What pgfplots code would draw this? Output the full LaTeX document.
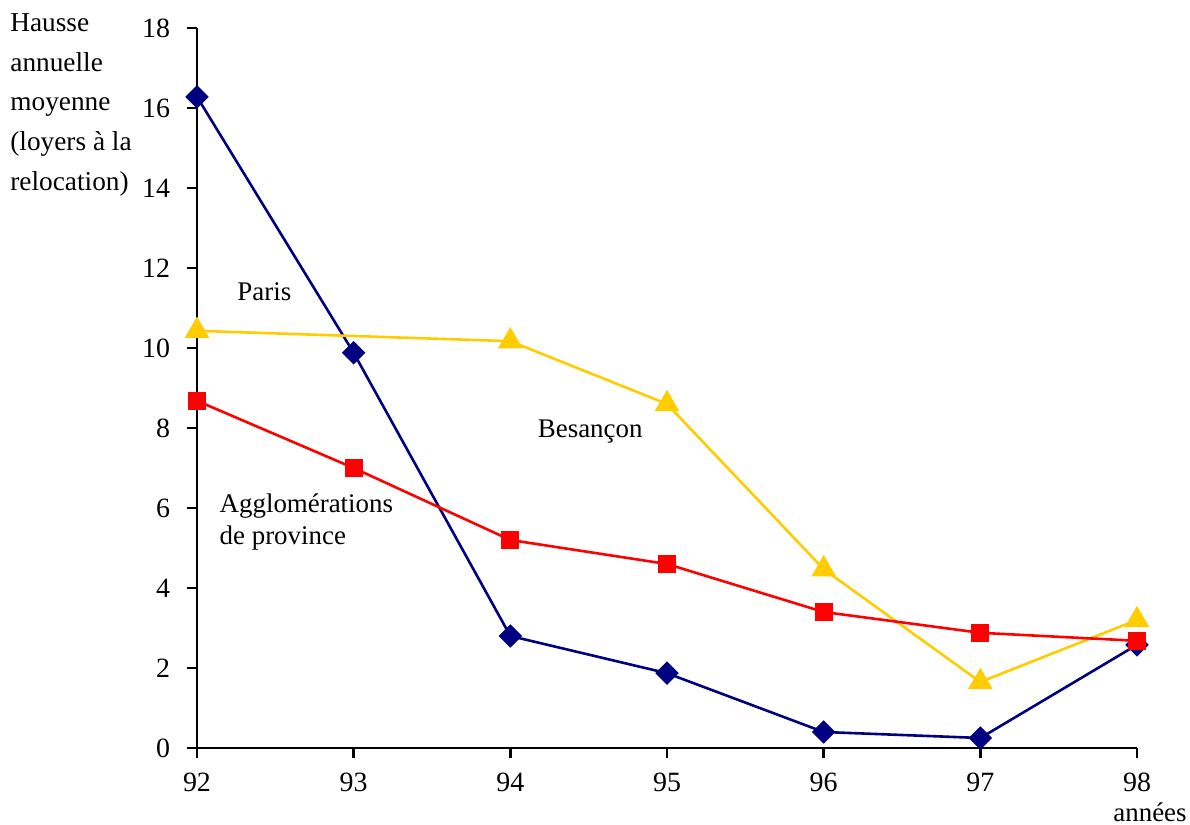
\documentclass[border=0pt]{standalone}
\usepackage{fontspec}
\setmainfont{Liberation Serif}
\usepackage{pgfplots}
\pgfplotsset{compat=1.18}
\definecolor{parisc}{RGB}{0,0,128}
\definecolor{provc}{RGB}{255,0,0}
\definecolor{besc}{RGB}{255,204,0}
\begin{document}
\begin{tikzpicture}
\begin{axis}[
  name=ax,
  scale only axis,
  width=470bp, height=360bp,
  xmin=92, xmax=98, ymin=0, ymax=18,
  xtick={92,...,98}, ytick={0,2,...,18},
  axis x line*=bottom, axis y line*=left,
  axis line style={line width=1.4bp, -},
  tick align=outside, major tick length=5bp,
  tick style={line width=1.4bp, black},
  /pgf/number format/assume math mode=true,
  tick label style={font=\fontsize{14}{17}\selectfont},
  xticklabel style={yshift=-4bp},
  yticklabel style={xshift=-5bp},
  clip=false,
]
\addplot[color=parisc, line width=1.3bp, mark=square*, mark size=3.5bp, mark options={fill=parisc, rotate=45}] coordinates {
(92,16.28) (93,9.88) (94,2.8) (95,1.87) (96,0.4) (97,0.25) (98,2.58)};
\addplot[color=besc, line width=1.3bp, mark=triangle*, mark size=5.8bp, mark options={fill=besc}] coordinates {
(92,10.43) (94,10.17) (95,8.6) (96,4.47) (97,1.65) (98,3.2)};
\addplot[color=provc, line width=1.3bp, mark=square*, mark size=3.9bp, mark options={fill=provc}] coordinates {
(92,8.68) (93,7.0) (94,5.2) (95,4.6) (96,3.4) (97,2.88) (98,2.68)};
\node[font=\fontsize{13.5}{17}\selectfont] at (axis cs:92.43,11.4) {Paris};
\node[font=\fontsize{13.5}{17}\selectfont] at (axis cs:94.51,7.9) {Besançon};
\node[font=\fontsize{13.5}{16}\selectfont, align=left, anchor=west] at (axis cs:92.1,5.65) {Agglomérations\\de province};
\end{axis}
\node[anchor=north west, align=left, inner sep=0pt, font=\fontsize{13.7}{20}\selectfont] at ([shift={(-93.5bp,7.5bp)}]ax.north west) {Hausse\\annuelle\\moyenne\\(loyers à la\\relocation)};
\node[anchor=base, inner sep=0pt, font=\fontsize{13.5}{17}\selectfont] at ([shift={(6.5bp,-36.5bp)}]ax.south east) {années};
\pgfresetboundingbox
\path ([shift={(-98.5bp,-38.5bp)}]ax.south west) rectangle ([shift={(26.5bp,14bp)}]ax.north east);
\end{tikzpicture}
\end{document}
